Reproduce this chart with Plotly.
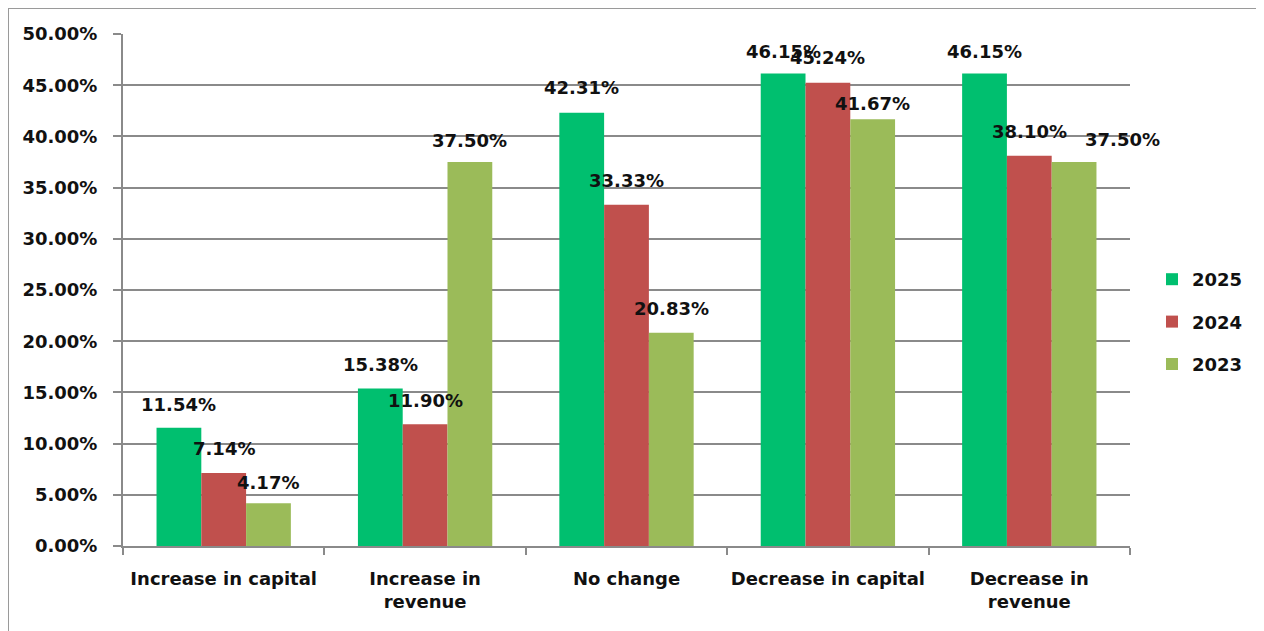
import plotly.graph_objects as go

categories = ["Increase in capital", "Increase in<br>revenue", "No change",
              "Decrease in capital", "Decrease in<br>revenue"]
series_names = ["2025", "2024", "2023"]
v2025 = [0.1154, 0.1538, 0.4231, 0.4615, 0.4615]
v2024 = [0.0714, 0.1190, 0.3333, 0.4524, 0.3810]
v2023 = [0.0417, 0.3750, 0.2083, 0.4167, 0.3750]
y_ticks = [0, 0.05, 0.10, 0.15, 0.20, 0.25, 0.30, 0.35, 0.40, 0.45, 0.50]

colors = ["#00BF6F", "#C0504D", "#9BBB59"]
values = [v2025, v2024, v2023]
FONT = "DejaVu Sans"
FS = 18
BARGAP = 0.333

fig = go.Figure()
for name, vals, col in zip(series_names, values, colors):
    fig.add_trace(go.Bar(
        x=categories, y=vals, name=name, marker=dict(color=col, line=dict(width=0)),
        legendgroup=name, hoverinfo="x+y+name",
    ))

# data labels above bars (per-label nudges mimic the reference's placements)
xshift_adj = [[0, 0, 0, 0, 0], [0, 0, 0, 0, 0], [0, 0, 0, 0, 48]]
yshift_adj = [[23, 24, 25, 22, 22], [24, 24, 24, 25, 24], [21, 22, 24, 16, 23]]
w = (1 - BARGAP) / 3
annotations = []
for j, vals in enumerate(values):
    for i, v in enumerate(vals):
        annotations.append(dict(
            x=i + (j - 1) * w, y=v, xref="x", yref="y",
            text=f"{v*100:.2f}%", showarrow=False,
            yshift=yshift_adj[j][i], xshift=xshift_adj[j][i],
            font=dict(family=FONT, size=FS, color="#111", weight="bold"),
        ))

OFF = 8
L, R, T, B = 123 - OFF, 1130 - OFF, 34 - OFF, 546 - OFF
W, H = 1256, 623
pw, ph = R - L, B - T
def px(x):
    return (x - OFF - L) / pw
def py(y):
    return (B - (y - OFF)) / ph

fig.update_layout(
    width=W, height=H,
    margin=dict(l=L, r=W - R, t=T, b=H - B, pad=0, autoexpand=False),
    paper_bgcolor="white", plot_bgcolor="white",
    barmode="group", bargap=BARGAP, bargroupgap=0,
    font=dict(family=FONT, size=FS, color="#111", weight="bold"),
    showlegend=True,
    legend=dict(x=px(1152), y=py(261), xanchor="left", yanchor="top",
                font=dict(family=FONT, size=FS, color="#111", weight="bold"),
                tracegroupgap=16, itemwidth=30, bgcolor="rgba(0,0,0,0)"),
    annotations=annotations,
    shapes=[dict(type="rect", xref="paper", yref="paper",
                 x0=px(8), x1=px(1259), y0=py(640), y1=py(8),
                 line=dict(color="#9a9a9a", width=2), layer="below")],
    xaxis=dict(
        type="category", showgrid=False, showline=True, linecolor="#8a8a8a", linewidth=2,
        ticks="outside", tickson="boundaries", ticklen=7, tickwidth=2, tickcolor="#8a8a8a",
        tickfont=dict(family=FONT, size=FS, color="#111", weight="bold"),
        ticklabelstandoff=15, range=[-0.5, 4.5], tickangle=0, automargin=False,
    ),
    yaxis=dict(
        range=[0, 0.5], tickvals=y_ticks, tickformat=".2%",
        showgrid=True, gridcolor="#8a8a8a", gridwidth=2,
        showline=True, linecolor="#8a8a8a", linewidth=2,
        ticks="outside", ticklen=8, tickwidth=2, tickcolor="#8a8a8a",
        tickfont=dict(family=FONT, size=FS, color="#111", weight="bold"),
        ticklabelstandoff=12, zeroline=False, automargin=False,
    ),
)

fig.write_html("out.html")
